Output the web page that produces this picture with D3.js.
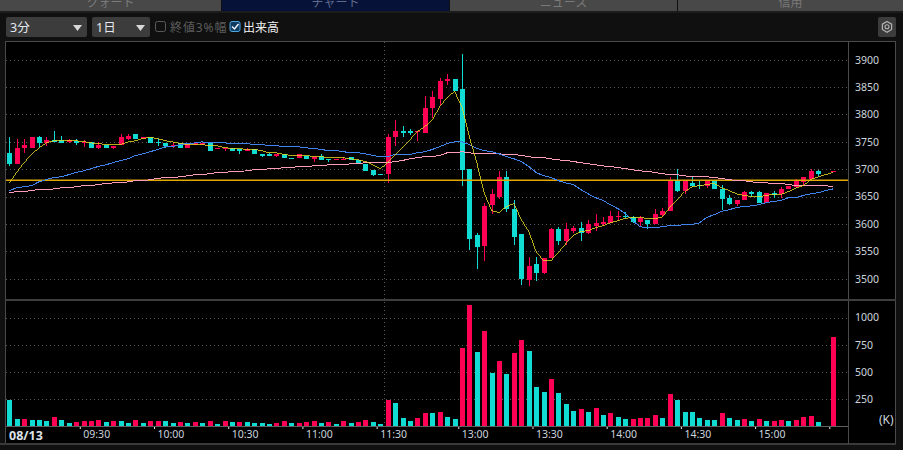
<!DOCTYPE html>
<html>
<head>
<meta charset="utf-8">
<script src="https://cdnjs.cloudflare.com/ajax/libs/d3/7.8.5/d3.min.js"></script>
<style>
html, body { margin: 0; padding: 0; background: #101010; overflow: hidden; }
svg { display: block; }
text { font-family: "Noto Sans", "Noto Sans CJK JP", sans-serif; }
</style>
</head>
<body>
<svg id="chart" width="903" height="450"></svg>
<script>
// 3 minute bars, index 110 has no trade
const opens = [3730,3710,3738,3739,3758,3748,3754,3754,3750,3752,3748,3750,3738,3745,3738,3745,3756,3765,3756,3759,3750,3748,3743,3747,3739,3745,3745,3747,3736,3736,3739,3736,3734,3736,3728,3727,3725,3728,3721,3721,3725,3719,3725,3719,3716,3717,3723,3716,3710,3699,3692,3692,3759,3769,3769,3769,3767,3812,3829,3862,3864,3847,3701,3579,3559,3635,3650,3686,3628,3581,3498,3527,3511,3537,3590,3568,3588,3593,3584,3597,3599,3602,3613,3615,3613,3604,3608,3599,3617,3623,3679,3661,3675,3672,3670,3679,3664,3648,3637,3643,3659,3659,3639,3657,3654,3663,3668,3677,3683,3696,null,3696];
const highs = [3759,3756,3756,3758,3761,3758,3769,3761,3756,3756,3754,3750,3750,3745,3743,3765,3765,3765,3759,3759,3756,3748,3748,3748,3747,3747,3747,3747,3738,3739,3739,3736,3739,3736,3728,3730,3728,3728,3721,3727,3725,3723,3727,3719,3719,3723,3723,3716,3710,3699,3692,3765,3790,3778,3774,3770,3834,3843,3867,3873,3865,3911,3701,3584,3639,3663,3696,3697,3643,3581,3540,3540,3537,3593,3595,3601,3597,3604,3608,3619,3613,3623,3624,3621,3615,3615,3608,3628,3630,3686,3701,3679,3685,3679,3679,3681,3672,3652,3644,3661,3661,3661,3657,3661,3668,3670,3683,3686,3701,3699,null,3697];
const lows = [3705,3710,3730,3739,3739,3743,3750,3748,3748,3745,3741,3739,3736,3738,3736,3745,3754,3756,3756,3748,3743,3739,3739,3739,3739,3745,3745,3734,3736,3734,3734,3728,3734,3727,3723,3725,3723,3721,3719,3721,3719,3714,3717,3714,3716,3716,3716,3710,3696,3688,3690,3674,3743,3759,3763,3752,3767,3794,3818,3854,3842,3670,3553,3517,3533,3619,3646,3621,3562,3489,3486,3496,3509,3537,3562,3562,3584,3568,3581,3588,3597,3602,3608,3610,3602,3597,3590,3599,3613,3623,3659,3654,3668,3663,3666,3664,3626,3635,3633,3643,3650,3639,3639,3648,3648,3663,3666,3670,3683,3688,null,3696];
const closes = [3710,3739,3745,3758,3747,3754,3750,3748,3754,3748,3750,3739,3745,3738,3743,3758,3761,3756,3758,3748,3747,3743,3745,3739,3747,3747,3747,3734,3738,3739,3734,3734,3736,3728,3725,3725,3728,3721,3719,3727,3719,3723,3717,3716,3719,3719,3716,3710,3696,3690,3690,3759,3769,3767,3767,3770,3812,3832,3862,3864,3842,3699,3573,3557,3633,3654,3686,3628,3577,3500,3524,3511,3537,3590,3568,3590,3593,3584,3599,3601,3604,3615,3615,3612,3604,3610,3599,3619,3624,3679,3661,3679,3670,3670,3679,3664,3646,3637,3644,3659,3655,3639,3657,3652,3664,3670,3679,3686,3697,3692,null,3697];

const maShort = [3675,3694,3712,3727,3739,3748,3752,3752,3752,3752,3750,3748,3747,3745,3745,3745,3750,3752,3756,3758,3756,3752,3750,3747,3745,3745,3745,3743,3743,3739,3738,3738,3736,3736,3734,3730,3730,3727,3725,3725,3725,3723,3723,3721,3721,3721,3719,3717,3714,3708,3701,3712,3727,3739,3754,3769,3778,3790,3814,3831,3842,3814,3759,3712,3657,3624,3621,3632,3637,3608,3586,3549,3533,3533,3548,3564,3579,3586,3588,3593,3597,3602,3606,3610,3612,3612,3610,3610,3612,3630,3644,3659,3668,3670,3672,3674,3666,3661,3655,3652,3650,3650,3652,3654,3654,3659,3666,3670,3681,3686,3690,3694];
const maMid = [3661,3666,3668,3670,3677,3681,3685,3686,3690,3694,3697,3701,3705,3708,3712,3716,3719,3725,3728,3732,3736,3741,3741,3745,3747,3748,3750,3748,3748,3748,3747,3747,3747,3745,3745,3743,3743,3741,3741,3741,3739,3738,3736,3734,3734,3732,3730,3730,3728,3725,3723,3723,3727,3727,3727,3730,3732,3736,3741,3747,3750,3750,3745,3738,3734,3732,3728,3723,3719,3714,3705,3694,3688,3685,3679,3675,3672,3663,3655,3648,3643,3635,3628,3619,3606,3595,3593,3593,3595,3597,3597,3599,3599,3602,3612,3617,3623,3626,3630,3632,3633,3635,3639,3641,3643,3648,3648,3652,3655,3657,3661,3664];
const maLong = [3657,3659,3659,3661,3663,3663,3664,3666,3666,3668,3670,3670,3672,3674,3675,3675,3677,3679,3679,3681,3683,3685,3685,3686,3688,3690,3690,3692,3694,3694,3696,3696,3697,3699,3699,3701,3701,3703,3703,3705,3705,3706,3706,3708,3708,3708,3710,3710,3712,3712,3712,3712,3714,3716,3719,3721,3723,3723,3725,3730,3730,3732,3730,3728,3728,3728,3728,3727,3727,3725,3723,3721,3721,3719,3717,3716,3714,3712,3710,3708,3706,3705,3703,3701,3699,3697,3696,3694,3692,3690,3690,3688,3686,3686,3686,3685,3683,3681,3679,3679,3677,3675,3675,3674,3674,3672,3670,3670,3670,3670,3670,3668];
const prevClose = 3680;

const volumes = [238,62,62,53,53,43,80,53,25,34,43,43,53,34,43,43,25,53,25,43,43,43,25,34,25,34,25,43,15,43,34,34,34,25,25,15,25,43,25,25,37,46,28,37,19,46,28,37,56,37,19,241,213,74,46,74,120,120,130,83,65,723,1112,686,880,491,602,482,677,797,695,361,315,436,306,204,139,158,130,167,102,120,83,65,65,74,74,102,74,297,241,130,130,74,56,56,120,74,56,65,46,65,46,46,56,46,56,83,93,37,0,816];
const volumeSides = "ttrtttrttrrrrtrttrtrrttrtrtrtrtrttttrrtr".slice(0, 40) + "rrtrtrtrrttrtttrrtrttrrtrtrtrrtttrtttrtr" + "trttrrrrtrttttttrttrtrtrrtrrrt-r";

const priceTicks = [3500,3550,3600,3650,3700,3750,3800,3850,3900];
const volumeTicks = [250,500,750,1000];
const timeTickSlots = [9.5,19.5,29.5,39.5,49.5,60.5,70.5,80.5,90.5,100.5,110.5];
const timeLabels = ["09:30","10:00","10:30","11:00","11:30","13:00","13:30","14:00","14:30","15:00",""];
const sessionBreak = 50.5;

const tabs = [
  { name: "クォート", x0: 0, x1: 221, active: false },
  { name: "チャート", x0: 222, x1: 449, active: true },
  { name: "ニュース", x0: 450, x1: 677, active: false },
  { name: "信用", x0: 678, x1: 903, active: false }
];

const red = "#ff0055", teal = "#10dcd4";
const svg = d3.select("#chart");

const x = d3.scaleLinear().domain([0, 111]).range([9.3, 833]);
const yPrice = d3.scaleLinear().domain([3500, 3900]).range([278.7, 59.7]);
const yVol = d3.scaleLinear().domain([0, 1000]).range([426, 317.5]);

// ---- tabs and toolbar
svg.selectAll(".tab").data(tabs).join("rect")
  .attr("x", d => d.x0).attr("y", 0)
  .attr("width", d => d.x1 - d.x0).attr("height", 11)
  .attr("fill", d => d.active ? "#061238" : "#484848");
svg.selectAll(".tabText").data(tabs).join("text")
  .attr("x", d => (d.x0 + d.x1) / 2).attr("y", 7)
  .attr("text-anchor", "middle").attr("font-size", 12)
  .attr("fill", d => d.active ? "#5f6b8a" : "#7a7a7a")
  .text(d => d.name);
svg.append("rect").attr("x", 0).attr("y", 11).attr("width", 903).attr("height", 2).attr("fill", "#1c1c1c");

function dropdown(x0, x1, label) {
  svg.append("rect").attr("x", x0).attr("y", 17).attr("width", x1 - x0).attr("height", 20).attr("rx", 2).attr("fill", "#3c3c3c");
  svg.append("text").attr("x", x0 + 4).attr("y", 32).attr("font-size", 12.5).attr("fill", "#e4e8ee").text(label);
  svg.append("path").attr("d", `M${x1 - 14},25 h9 l-4.5,6 z`).attr("fill", "#d8d8d8");
}
dropdown(6, 87, "3分");
dropdown(92, 150, "1日");

svg.append("rect").attr("x", 155.5).attr("y", 21.5).attr("width", 10).attr("height", 10).attr("rx", 2)
  .attr("fill", "none").attr("stroke", "#5a5a5a");
svg.append("text").attr("x", 170).attr("y", 32).attr("font-size", 12).attr("letter-spacing", 0.9).attr("fill", "#5c5c5c").text("終値3%幅");
svg.append("rect").attr("x", 230).attr("y", 21.5).attr("width", 10).attr("height", 10).attr("rx", 2)
  .attr("fill", "#123a5c").attr("stroke", "#4aa8e8");
svg.append("path").attr("d", "M232,26.5 l2.5,2.5 l4,-5").attr("fill", "none").attr("stroke", "#e8f4ff").attr("stroke-width", 1.5);
svg.append("text").attr("x", 243).attr("y", 32).attr("font-size", 12).attr("fill", "#f0f0f0").text("出来高");

svg.append("rect").attr("x", 878).attr("y", 17).attr("width", 18).attr("height", 20).attr("rx", 2).attr("fill", "#3c3c3c");
svg.append("path").attr("d", "M887,21.5 l4.6,2.7 v5.3 l-4.6,2.7 l-4.6,-2.7 v-5.3 z").attr("fill", "none").attr("stroke", "#b4b4b4").attr("stroke-width", 1.2);
svg.append("circle").attr("cx", 887).attr("cy", 26.8).attr("r", 2).attr("fill", "none").attr("stroke", "#b4b4b4").attr("stroke-width", 1.1);

// ---- frame
svg.append("rect").attr("x", 5.5).attr("y", 41.5).attr("width", 890).attr("height", 402.5)
  .attr("fill", "#000").attr("stroke", "#4a4a4a");
svg.append("rect").attr("x", 0).attr("y", 443).attr("width", 896).attr("height", 2).attr("fill", "#3a3a3a");
svg.append("rect").attr("x", 848).attr("y", 42).attr("width", 1).attr("height", 402).attr("fill", "#4a4a4a");
svg.append("rect").attr("x", 6).attr("y", 299).attr("width", 890).attr("height", 2).attr("fill", "#3e3e3e");

// ---- grid
const gridColor = "#5a5a5a";
svg.append("g").selectAll("line").data(priceTicks).join("line")
  .attr("x1", 6).attr("x2", 848)
  .attr("y1", d => Math.round(yPrice(d)) + 0.5).attr("y2", d => Math.round(yPrice(d)) + 0.5)
  .attr("stroke", gridColor).attr("stroke-dasharray", "1,3");
svg.append("g").selectAll("line").data(volumeTicks).join("line")
  .attr("x1", 6).attr("x2", 848)
  .attr("y1", d => Math.round(yVol(d)) + 0.5).attr("y2", d => Math.round(yVol(d)) + 0.5)
  .attr("stroke", gridColor).attr("stroke-dasharray", "1,3");
svg.append("line")
  .attr("x1", Math.round(x(sessionBreak)) + 0.5).attr("x2", Math.round(x(sessionBreak)) + 0.5)
  .attr("y1", 42).attr("y2", 426)
  .attr("stroke", gridColor).attr("stroke-dasharray", "1,3");

// ---- candles
const bars = d3.range(opens.length).filter(i => opens[i] !== null);
const candles = svg.append("g").attr("shape-rendering", "crispEdges");
candles.selectAll(".wick").data(bars).join("line")
  .attr("x1", i => Math.round(x(i)) + 0.5).attr("x2", i => Math.round(x(i)) + 0.5)
  .attr("y1", i => yPrice(highs[i])).attr("y2", i => yPrice(lows[i]))
  .attr("stroke", i => closes[i] >= opens[i] ? red : teal);
candles.selectAll(".body").data(bars).join("rect")
  .attr("x", i => Math.round(x(i)) - 2).attr("width", 5)
  .attr("y", i => yPrice(Math.max(opens[i], closes[i])))
  .attr("height", i => Math.max(1, Math.abs(yPrice(opens[i]) - yPrice(closes[i]))))
  .attr("fill", i => closes[i] >= opens[i] ? red : teal);

// ---- previous close and moving averages
svg.append("line")
  .attr("x1", 6).attr("x2", 848)
  .attr("y1", yPrice(prevClose)).attr("y2", yPrice(prevClose))
  .attr("stroke", "#e0a800").attr("stroke-width", 1.5);

const maLine = d3.line().x((d, i) => x(i)).y(d => yPrice(d));
const maLines = svg.append("g").attr("fill", "none").attr("shape-rendering", "crispEdges");
maLines.append("path").attr("d", maLine(maLong)).attr("stroke", "#ff9db8").attr("stroke-width", 1);
maLines.append("path").attr("d", maLine(maMid)).attr("stroke", "#3f84ec").attr("stroke-width", 1);
maLines.append("path").attr("d", maLine(maShort)).attr("stroke", "#e6d820").attr("stroke-width", 0.8);

// ---- volume
svg.append("g").attr("shape-rendering", "crispEdges")
  .selectAll("rect").data(volumes).join("rect")
  .attr("x", (d, i) => Math.round(x(i)) - 2).attr("width", 5)
  .attr("y", d => yVol(d)).attr("height", d => yVol(0) - yVol(d))
  .attr("fill", (d, i) => volumeSides[i] === "r" ? red : teal);

// ---- axes
function styleAxis(g) {
  g.select(".domain").remove();
  g.selectAll(".tick line").remove();
  g.selectAll("text").attr("font-size", 10.5).attr("fill", "#ccd4de").attr("x", 0);
}
svg.append("g").attr("transform", "translate(855,0)")
  .call(d3.axisRight(yPrice).tickValues(priceTicks).tickFormat(d3.format("d")))
  .call(styleAxis);
svg.append("g").attr("transform", "translate(855,0)")
  .call(d3.axisRight(yVol).tickValues(volumeTicks).tickFormat(d3.format("d")))
  .call(styleAxis);
svg.append("text").attr("x", 879).attr("y", 424).attr("font-size", 12).attr("fill", "#ccd4de").text("(K)");

svg.append("rect").attr("x", 6).attr("y", 426).attr("width", 842).attr("height", 1).attr("fill", "#606060");
const xAxis = d3.axisBottom(x).tickValues(timeTickSlots)
  .tickSize(2).tickFormat((d, i) => timeLabels[i]);
const xg = svg.append("g").attr("transform", "translate(0,427)").call(xAxis);
xg.select(".domain").remove();
xg.selectAll(".tick line").attr("stroke", "#e8e8e8");
xg.selectAll("text")
  .attr("text-anchor", "start").attr("x", 3).attr("y", 4)
  .attr("font-size", 10.5).attr("fill", "#ccd4de");
svg.append("text").attr("x", 9).attr("y", 440).attr("font-size", 12.5).attr("font-weight", "bold").attr("fill", "#dde2e8").text("08/13");
</script>
</body>
</html>
